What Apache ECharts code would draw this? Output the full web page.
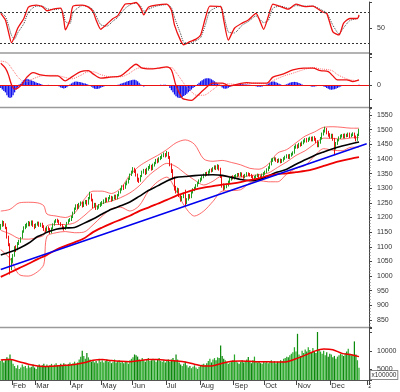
<!DOCTYPE html>
<html><head><meta charset="utf-8">
<script src="https://cdn.jsdelivr.net/npm/echarts@6/dist/echarts.min.js"></script>
<style>html,body{margin:0;padding:0;background:#fff}#c{width:400px;height:392px}</style>
</head><body><div id="c"></div>
<script>
// ---- calendar (trading-day categories) ----
const monthLabels = ['', 'Feb', 'Mar', 'Apr', 'May', 'Jun', 'Jul', 'Aug', 'Sep', 'Oct', 'Nov', 'Dec', '2022'];
const monthDays   = [8, 15, 23, 20, 20, 22, 22, 22, 20, 21, 22, 24, 1];

// ---- daily candles [open, close, low, high] ----
const candles = [
[1165,1172,1158,1178],[1172,1182,1168,1190],[1182,1175,1170,1188],[1176,1166,1160,1180],[1166,1132,1128,1168],
[1132,1110,1102,1138],[1110,1025,1005,1112],[1028,1058,1020,1062],[1060,1068,1045,1075],[1070,1098,1066,1102],
[1098,1090,1082,1105],[1090,1112,1088,1116],[1112,1118,1106,1124],[1118,1128,1114,1133],[1130,1152,1128,1156],
[1152,1166,1148,1170],[1166,1172,1160,1178],[1172,1176,1165,1182],[1176,1182,1170,1188],[1182,1176,1170,1186],
[1176,1186,1172,1190],[1186,1172,1168,1190],[1172,1168,1160,1178],[1168,1176,1164,1180],[1176,1182,1172,1186],
[1182,1172,1168,1186],[1172,1178,1168,1182],[1178,1170,1164,1182],[1170,1160,1154,1174],[1160,1155,1148,1164],
[1155,1166,1152,1170],[1166,1160,1155,1170],[1160,1150,1144,1164],[1150,1163,1146,1166],[1163,1176,1160,1180],
[1176,1186,1172,1190],[1186,1191,1182,1195],[1191,1188,1182,1196],[1188,1180,1175,1192],[1180,1175,1170,1184],
[1175,1165,1160,1178],[1165,1162,1155,1170],[1162,1170,1158,1174],[1170,1182,1166,1185],[1182,1190,1178,1194],
[1190,1192,1185,1198],[1192,1202,1188,1206],[1202,1216,1198,1220],[1216,1230,1212,1234],[1230,1240,1226,1245],
[1240,1234,1228,1246],[1234,1245,1230,1250],[1245,1249,1240,1255],[1249,1240,1234,1254],[1240,1250,1236,1255],
[1250,1256,1245,1260],[1256,1246,1240,1260],[1246,1266,1244,1270],[1266,1278,1262,1288],[1278,1260,1255,1282],
[1260,1240,1232,1264],[1240,1246,1234,1250],[1246,1232,1226,1250],[1232,1236,1226,1240],[1236,1241,1230,1246],
[1241,1246,1236,1252],[1246,1251,1240,1256],[1251,1256,1246,1262],[1256,1263,1250,1268],[1263,1258,1252,1268],
[1258,1266,1254,1270],[1266,1271,1262,1277],[1271,1260,1254,1274],[1260,1268,1256,1272],[1268,1273,1262,1278],
[1273,1266,1260,1278],[1266,1276,1262,1280],[1276,1286,1272,1290],[1286,1296,1282,1300],[1296,1306,1292,1310],
[1306,1300,1294,1312],[1300,1316,1298,1320],[1316,1321,1310,1326],[1321,1331,1316,1336],[1331,1346,1328,1350],
[1346,1356,1342,1360],[1356,1364,1350,1372],[1364,1360,1352,1370],[1360,1345,1340,1364],[1345,1330,1322,1350],
[1330,1326,1318,1336],[1326,1341,1322,1345],[1341,1356,1338,1360],[1356,1361,1350,1366],[1361,1351,1345,1366],
[1351,1366,1348,1370],[1366,1371,1360,1376],[1371,1376,1366,1382],[1376,1366,1360,1380],[1366,1379,1362,1384],
[1379,1386,1374,1390],[1386,1396,1382,1400],[1396,1391,1385,1402],[1391,1401,1388,1406],[1401,1406,1396,1410],
[1406,1411,1400,1416],[1411,1416,1406,1422],[1416,1412,1405,1420],[1412,1420,1408,1427],[1420,1405,1400,1424],
[1405,1380,1375,1410],[1380,1360,1352,1385],[1360,1335,1330,1365],[1335,1300,1292,1340],[1300,1290,1282,1308],
[1290,1296,1284,1302],[1296,1276,1270,1300],[1276,1260,1254,1280],[1260,1270,1256,1274],[1270,1280,1266,1284],
[1290,1250,1238,1295],[1250,1262,1246,1266],[1262,1275,1258,1280],[1275,1270,1264,1280],[1270,1285,1266,1290],
[1285,1295,1282,1300],[1295,1300,1290,1305],[1300,1310,1296,1314],[1310,1318,1305,1322],[1318,1326,1314,1330],
[1326,1330,1320,1336],[1330,1338,1326,1342],[1338,1345,1334,1350],[1345,1350,1340,1355],[1350,1348,1342,1356],
[1348,1355,1344,1360],[1355,1362,1350,1366],[1362,1360,1354,1368],[1360,1368,1356,1372],[1368,1373,1364,1378],
[1373,1368,1362,1378],[1368,1376,1364,1382],[1376,1366,1360,1380],[1366,1340,1335,1370],[1340,1310,1302,1345],
[1310,1300,1292,1316],[1300,1305,1295,1310],[1305,1311,1300,1316],[1311,1322,1306,1326],[1322,1330,1318,1335],
[1330,1338,1326,1342],[1338,1335,1330,1344],[1335,1340,1330,1345],[1340,1343,1335,1348],[1343,1348,1338,1352],
[1348,1345,1340,1352],[1345,1350,1340,1355],[1350,1342,1338,1354],[1342,1338,1332,1346],[1338,1345,1334,1349],
[1345,1350,1340,1355],[1350,1348,1342,1354],[1348,1345,1340,1352],[1345,1340,1335,1349],[1340,1335,1330,1344],
[1335,1338,1330,1342],[1338,1342,1334,1346],[1342,1345,1338,1350],[1345,1340,1335,1349],[1340,1338,1332,1344],
[1338,1345,1334,1350],[1345,1350,1340,1355],[1350,1356,1346,1360],[1356,1362,1352,1368],[1362,1370,1358,1375],
[1370,1382,1366,1386],[1382,1396,1378,1402],[1396,1399,1390,1404],[1399,1401,1394,1406],[1401,1395,1390,1405],
[1395,1392,1386,1400],[1392,1397,1388,1402],[1397,1390,1385,1401],[1390,1395,1386,1400],[1395,1401,1391,1406],
[1401,1406,1397,1411],[1406,1411,1402,1416],[1411,1405,1400,1416],[1405,1412,1400,1417],[1412,1416,1408,1421],
[1416,1421,1412,1426],[1421,1440,1418,1445],[1440,1446,1435,1450],[1446,1441,1435,1450],[1441,1450,1437,1455],
[1450,1448,1442,1456],[1448,1455,1444,1460],[1455,1461,1450,1466],[1461,1466,1456,1471],[1466,1462,1456,1472],
[1462,1468,1458,1473],[1468,1471,1463,1476],[1471,1465,1460,1476],[1465,1472,1460,1477],[1472,1468,1462,1478],
[1468,1460,1454,1472],[1460,1445,1440,1464],[1445,1456,1440,1460],[1456,1470,1452,1475],[1470,1485,1466,1490],
[1485,1495,1480,1500],[1495,1502,1490,1510],[1502,1490,1484,1506],[1490,1482,1476,1496],[1482,1478,1470,1488],
[1478,1480,1470,1486],[1480,1468,1462,1486],[1468,1443,1413,1472],[1443,1452,1432,1458],[1452,1464,1448,1468],
[1464,1472,1460,1477],[1472,1478,1468,1483],[1478,1480,1473,1485],[1480,1475,1470,1486],[1475,1482,1470,1487],
[1482,1480,1474,1486],[1480,1485,1475,1490],[1485,1478,1472,1490],[1478,1482,1474,1487],[1482,1486,1478,1491],
[1486,1476,1470,1490],[1476,1466,1460,1480],[1466,1482,1462,1486],[1482,1498,1478,1503]
];

// ---- daily volume (x100000) ----
const volume = [
7200,7600,6800,7400,8200,7800,9000,7600,6400,5800,
5200,6000,5000,5400,6200,5600,5800,5200,6000,5400,
5600,6200,5400,5000,5800,6200,5600,6000,6400,5800,
6200,5600,6000,6400,5800,6200,6600,6000,5800,6400,
6000,6600,6200,5800,6400,6800,6200,6600,7000,6400,
6800,7600,8400,10000,8600,7800,9400,8200,7600,7000,
7400,6800,7200,6600,7800,7000,7400,6800,7200,7600,
7000,7400,6600,7000,7600,6800,7200,7400,6800,7000,
6600,7200,7000,6400,7400,7800,8200,9000,8800,8400,
7600,7200,8000,7400,7000,7600,8000,7200,7400,7800,
7400,7000,7600,8000,7200,7000,7400,6800,7200,7600,
7000,7600,8000,7400,9000,7600,6800,6200,5800,6400,
7000,6000,5400,5800,5200,5600,6000,5400,5000,5600,
5800,6200,6400,6000,6600,7200,7800,6800,7600,8000,
7400,8200,8000,11500,8600,7800,7400,7000,6400,6800,
7000,7400,9000,7200,6800,6400,7000,7400,6800,7200,
7600,8300,7000,6600,7400,8400,7200,6800,7000,6600,
6400,7000,6800,7200,6600,7000,7400,6800,7200,6600,
7000,6800,7400,7200,7800,8000,8400,8200,8800,9200,
9600,11000,9800,14700,9000,8600,10000,9400,10400,9800,
11000,10200,9600,10800,9800,9400,15200,10400,9800,9200,
10000,8800,9600,8400,9200,9000,8200,8600,7800,8400,
8800,9200,9000,8600,9400,9800,10600,9200,8800,9000,
12600,9000,7400,5300
];

// ---- MACD histogram (daily) ----
const macdHist = [
-2,-3,-4,-5,-7,-8.5,-9,-8.5,-7,-5,-3,-1.5,0.5,
1,2.5,3.5,4.3,4.5,4.2,3.8,3.4,3,2.5,2,1.6,1.2,0.8,0.4,
0.2,-0.2,-0.3,0.3,0.2,-0.2,-0.3,-0.2,0.2,-0.3,
-0.8,-1.5,-2,-2.2,-2,-1.4,-0.6,
0.5,1.3,2,2.5,2.6,2.5,2.3,2.1,1.8,1.5,1.2,0.8,0.3,
-0.4,-1,-1.8,-2.4,-2.6,-2.5,-2.2,-1.8,-1.3,-0.9,-0.5,-0.3,-0.1,
0.1,-0.2,0.1,0.2,-0.1,0.3,0.6,1,
1.4,1.8,2.2,2.6,3,3.3,3.6,3.8,3.9,3.6,2.8,1.8,
0.6,-0.4,-0.8,-0.6,-0.5,-0.3,-0.2,-0.3,-0.2,-0.1,0.1,0.2,0.2,0.3,0.2,0.4,0.3,0.2,
-0.5,-2,-3.5,-5,-6.5,-7.8,-8.6,-9,-8.8,-8.2,-7.5,-6.8,-6,-5,-4,-3,-2,-1.2,-0.3,
0.8,1.8,2.8,3.6,4.3,4.8,5,5,4.7,4.2,3.6,2.8,2,1.2,0.5,
-0.6,-1.5,-2.2,-2.4,-2.2,-1.8,-1.2,-0.6,
0,0.3,0.6,0.9,1,1,0.9,0.7,0.6,0.5,0.4,0.3,0.2,-0.2,-0.4,
-0.7,-1,-1.1,-1,-0.8,-0.5,-0.1,
0.6,1.3,2,2.5,2.7,2.6,2.2,1.7,1.1,
0.6,0.2,0,0.3,0.7,
1.2,1.7,2.1,2.3,2.4,2.3,2,1.6,1.1,0.6,
0.2,0,-0.2,-0.3,
-0.6,-0.9,-1,-0.9,-0.7,-0.5,
-0.3,-0.2,-0.4,-0.8,-1.3,-1.9,-2.5,-2.9,-3.1,-3,-2.8,-2.4,-1.9,-1.4,-0.9,
-0.5,-0.3,-0.1,0.1,0.2,0.1,-0.1,-0.2,-0.3,-0.2,0.1,0.4
];

// ---- overlay lines read at sample days ----
const sampleIdx = [0,6,12,18,24,28,30,36,42,48,54,60,66,72,78,84,90,96,102,108,114,120,126,132,138,144,150,156,162,168,174,180,186,192,198,204,210,216,222,228,233];
const bbUpper = [1222,1228,1250,1252,1250,1240,1212,1205,1200,1215,1260,1290,1290,1282,1300,1345,1375,1395,1412,1432,1455,1465,1450,1400,1392,1395,1388,1380,1368,1365,1382,1420,1432,1455,1478,1492,1508,1510,1508,1505,1505];
const bbMid   = [1156,1144,1128,1126,1132,1140,1172,1176,1176,1182,1205,1232,1248,1256,1268,1284,1308,1342,1367,1385,1374,1350,1328,1311,1324,1342,1340,1338,1343,1346,1352,1371,1390,1412,1428,1451,1471,1470,1468,1472,1473];
const bbLower = [1090,1060,1005,1000,1015,1040,1135,1148,1152,1148,1150,1175,1205,1230,1235,1222,1240,1290,1322,1338,1292,1235,1205,1222,1255,1290,1292,1295,1318,1326,1322,1322,1348,1368,1378,1410,1435,1430,1428,1440,1440];
const maBlack = [1072,1082,1095,1112,1135,1144,1150,1160,1164,1166,1180,1195,1212,1228,1240,1253,1272,1292,1308,1325,1337,1340,1343,1345,1346,1344,1337,1330,1326,1330,1342,1355,1365,1382,1397,1412,1424,1435,1444,1452,1458];
const maRed   = [997,1012,1027,1042,1058,1067,1072,1090,1103,1115,1128,1150,1166,1180,1193,1206,1222,1234,1247,1260,1274,1285,1295,1302,1307,1312,1316,1321,1328,1334,1343,1348,1351,1355,1359,1366,1376,1386,1394,1401,1406];
const volMA   = [7500,7600,7000,6300,5800,5700,5700,5800,6000,6200,6700,7400,7600,7300,7100,7000,7300,7600,7600,7400,7200,6900,6300,5800,5900,6600,7100,7200,7100,7000,7000,6900,7000,7800,8800,9900,10500,10300,9300,8900,8400];
const trendIdx = [0, 238];
const trendVal = [1022, 1452];

// ---- oscillator (top panel) ----
const stochIdx = [0,3,5,7,9,11,15,18,23,27,30,34,39,41,42,45,47,53,57,60,62,65,69,73,76,81,85,88,91,93,96,101,108,111,113,117,119,123,127,130,133,136,143,145,148,152,157,161,166,171,174,177,182,187,192,198,203,209,212,216,220,223,227,232,233];
const stochVal = [78,65,42,21,33,49,68,90,94,91,83,86,88,65,46,65,92,94,90,81,65,47,57,68,73,96,97,99,88,75,90,94,96,84,55,25,17,23,28,36,68,92,91,65,26,49,59,65,78,47,72,96,91,86,96,91,92,81,78,42,36,59,68,68,75];
const stochSig = [80,72,55,35,28,40,58,80,92,92,87,85,87,76,62,58,80,93,91,85,73,56,53,63,70,88,96,98,92,82,86,92,95,89,70,38,22,20,25,31,55,82,92,75,42,40,55,62,73,60,64,88,92,88,93,92,92,84,79,55,38,50,64,68,72];
const stochLevels = [80, 20];

// ---- MACD lines ----
const macdIdx = [0,3,5,7,9,11,14,17,21,26,32,37,42,46,52,57,60,65,71,78,83,88,92,97,102,108,111,114,118,120,124,127,132,138,144,149,155,160,164,173,177,184,190,197,203,208,213,216,219,225,229,233];
const macdVal = [15.5,12,7.3,0.3,-2.7,-2,1,5.7,8.9,7.3,6.6,6.6,3.1,5.7,9.6,10.3,8,5,5.7,6.6,10.8,14.8,12,11.5,12,13,10.8,-0.4,-9,-10,-10.7,-8.3,-3.2,1.5,1.5,-0.4,1,1.9,1.5,1.5,5.7,8,10.8,12,12,10.3,9.6,6.6,3.8,3.8,2.6,3.8];
const macdSig = [17,16.5,15,12,9,6,3,2.5,4.5,6.5,7,6.8,5.5,4.5,7,9.5,9.5,7.5,6,6,8,11.5,12.5,12,11.8,12.5,12.5,9,3,0,-4.5,-7,-7,-3,1,1,0.2,1.2,1.5,1,3.2,6.5,8.5,11,12.5,11.5,11,10,7.5,4.5,3.5,3.2];

// ---------------- build ----------------
const cats = [], catLabel = {};
monthDays.forEach((n, m) => { for (let d = 0; d < n; d++) { const k = m + '-' + d; cats.push(k); catLabel[k] = d === 0 ? monthLabels[m] : ''; } });
const N = cats.length;
function spread(idx, vals) { const a = new Array(N).fill(null); idx.forEach((k, j) => { a[k] = vals[j]; }); return a; }

const FONT = 'Liberation Sans, Arial, sans-serif';
const RED = '#ee1111', GREEN = '#1f9e1f';
const grids = [
  { left: 0, right: 31, top: 2, height: 51.5 },
  { left: 0, right: 31, top: 54, height: 53 },
  { left: 0, right: 31, top: 108, height: 219 },
  { left: 0, right: 31, top: 328, height: 52 }
];
const xAxes = grids.map((g, gi) => ({
  type: 'category', gridIndex: gi, data: cats, boundaryGap: true,
  axisLine: { show: gi === 3, lineStyle: { color: '#555', width: 1 } },
  axisTick: gi === 3 ? { show: true, length: 5, lineStyle: { color: '#444' }, interval: (i, v) => catLabel[v] !== '' } : { show: false },
  axisLabel: gi === 3 ? { show: true, interval: (i, v) => catLabel[v] !== '', formatter: v => catLabel[v], align: 'left', margin: 2, fontSize: 7.5, color: '#333', fontFamily: FONT } : { show: false },
  splitLine: { show: false }
}));
const yBase = { position: 'right', axisLine: { show: true, lineStyle: { color: '#444' } }, splitLine: { show: false },
  axisTick: { show: true, length: 3, lineStyle: { color: '#444' } },
  axisLabel: { fontSize: 7, color: '#333', fontFamily: FONT, margin: 8 } };
const yAxes = [
  Object.assign({}, yBase, { gridIndex: 0, min: 0, max: 100, splitNumber: 2, axisLabel: Object.assign({}, yBase.axisLabel, { formatter: v => v === 50 ? '50' : '' }) }),
  Object.assign({}, yBase, { gridIndex: 1, min: -15.3, max: 22, splitNumber: 4, axisLabel: Object.assign({}, yBase.axisLabel, { formatter: v => v === 0 ? '0' : '' }) }),
  Object.assign({}, yBase, { gridIndex: 2, min: 826, max: 1574, splitNumber: 15,
    minorTick: { show: true, splitNumber: 5, length: 1.5, lineStyle: { color: '#666' } },
    axisLabel: Object.assign({}, yBase.axisLabel, { formatter: v => (v % 50 === 0 ? String(v) : '') }) }),
  Object.assign({}, yBase, { gridIndex: 3, min: 1950, max: 16300, splitNumber: 3, axisLabel: Object.assign({}, yBase.axisLabel, { formatter: v => (v === 5000 || v === 10000) ? String(v) : '' }) })
];

function line(gi, data, color, width, type, smooth) {
  return { type: 'line', xAxisIndex: gi, yAxisIndex: gi, data: data, showSymbol: false, connectNulls: true, smooth: smooth === undefined ? 0.3 : smooth,
    lineStyle: { color: color, width: width, type: type || 'solid' }, silent: true, animation: false, z: 3 };
}

const series = [
  Object.assign(line(0, spread(stochIdx, stochSig), '#444', 1, 'dotted', 0.2), { z: 2 }),
  Object.assign(line(0, spread(stochIdx, stochVal), RED, 1.3, 'solid', 0.2), {
    markLine: { silent: true, symbol: 'none', label: { show: false }, lineStyle: { color: '#333', type: [2, 2], width: 1 }, data: stochLevels.map(v => ({ yAxis: v })) } }),
  { type: 'bar', xAxisIndex: 1, yAxisIndex: 1, data: macdHist, itemStyle: { color: '#1010ee' }, barCategoryGap: '15%', silent: true, animation: false, z: 1 },
  Object.assign(line(1, spread(macdIdx, macdSig), '#ff7070', 1, 'dotted', 0.3), { z: 2 }),
  Object.assign(line(1, spread(macdIdx, macdVal), RED, 1.3, 'solid', 0.3), {
    markLine: { silent: true, symbol: 'none', label: { show: false }, lineStyle: { color: RED, type: 'solid', width: 1 }, data: [{ yAxis: 0 }] } }),
  Object.assign(line(2, spread(sampleIdx, bbUpper), '#ff4444', 0.8), { z: 2 }),
  Object.assign(line(2, spread(sampleIdx, bbMid), '#ff4444', 0.8), { z: 2 }),
  Object.assign(line(2, spread(sampleIdx, bbLower), '#ff4444', 0.8), { z: 2 }),
  { type: 'candlestick', xAxisIndex: 2, yAxisIndex: 2, data: candles, barWidth: 1.3, silent: true, animation: false, z: 3,
    itemStyle: { color: GREEN, color0: RED, borderColor: GREEN, borderColor0: RED, borderWidth: 1 } },
  Object.assign(line(2, spread(sampleIdx, maBlack), '#000', 1.6), { z: 4 }),
  Object.assign(line(2, spread(sampleIdx, maRed), '#ee0000', 1.8), { z: 4 }),
  Object.assign(line(2, spread(trendIdx, trendVal), '#0000ee', 1.6, 'solid', false), { z: 4 }),
  { type: 'bar', xAxisIndex: 3, yAxisIndex: 3, silent: true, animation: false, barCategoryGap: '20%', z: 1,
    data: volume.map((v, i) => ({ value: v, itemStyle: { color: candles[i][1] >= candles[i][0] ? '#2aa82a' : '#0b8a0b' } })) },
  Object.assign(line(3, spread(sampleIdx, volMA), '#ee0000', 1.5), { z: 3 })
];

const chart = echarts.init(document.getElementById('c'), null, { renderer: 'canvas' });
chart.setOption({
  backgroundColor: '#fff', animation: false,
  grid: grids, xAxis: xAxes, yAxis: yAxes, series: series,
  graphic: [
    { type: 'line', shape: { x1: 0, y1: 53, x2: 369, y2: 53 }, style: { stroke: '#9a9a9a', lineWidth: 1.5 }, silent: true, z: 10 },
    { type: 'line', shape: { x1: 0, y1: 107.5, x2: 369, y2: 107.5 }, style: { stroke: '#9a9a9a', lineWidth: 1.5 }, silent: true, z: 10 },
    { type: 'line', shape: { x1: 0, y1: 327.5, x2: 369, y2: 327.5 }, style: { stroke: '#9a9a9a', lineWidth: 1.5 }, silent: true, z: 10 },
    { type: 'rect', shape: { x: 371, y: 381, width: 29, height: 11 }, style: { fill: '#fff' }, silent: true, z: 20 },
    { type: 'text', x: 370.5, y: 371, silent: true, z: 21,
      style: { text: 'x100000', font: '6.5px ' + FONT, fill: '#333', backgroundColor: '#fff', borderColor: '#666', borderWidth: 0.8, padding: [1, 1, 0, 1] } }
  ]
});
</script></body></html>
